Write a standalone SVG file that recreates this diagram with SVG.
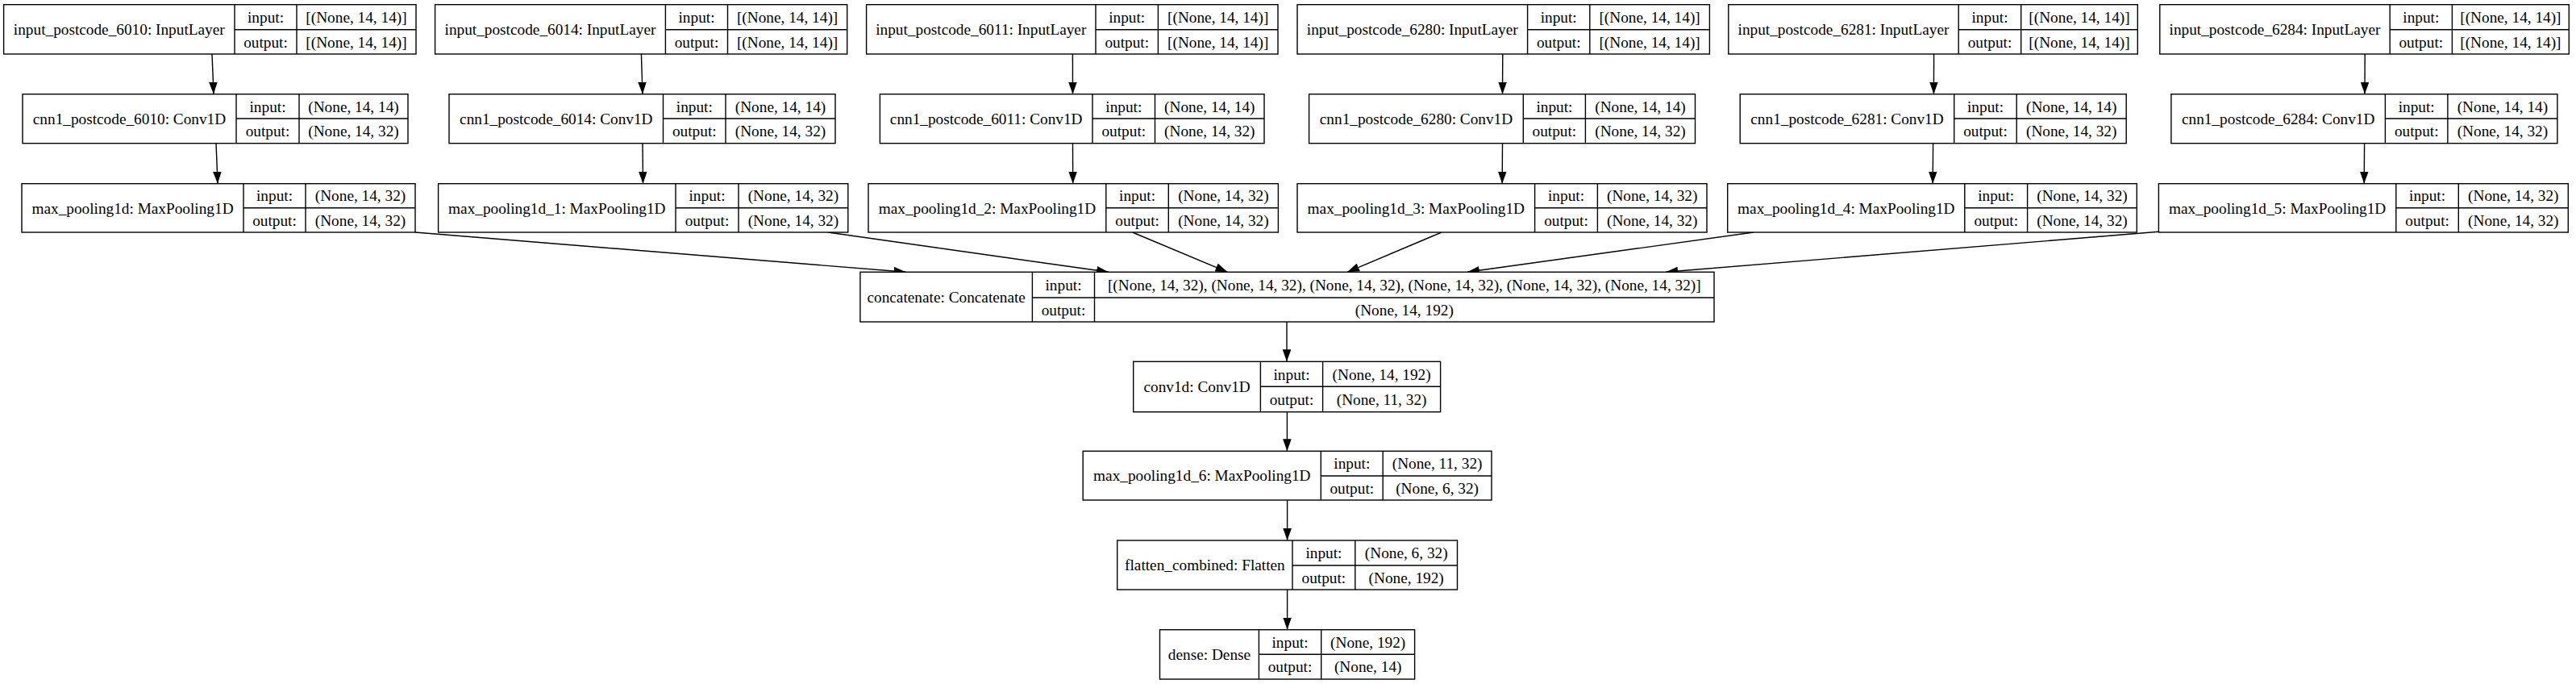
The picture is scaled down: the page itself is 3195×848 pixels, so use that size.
<svg xmlns="http://www.w3.org/2000/svg" width="3195" height="848" viewBox="0 0 3195 848">
<style>
rect.b{fill:#fff;stroke:#000;stroke-width:1.4}
.n line{stroke:#000;stroke-width:1.4}
text{font-family:"Liberation Serif","Times New Roman",serif;font-size:19.3px;fill:#000;text-anchor:middle}
#edges line{stroke:#000;stroke-width:1.4;marker-end:url(#ah)}
</style>
<defs>
<marker id="ah" markerUnits="userSpaceOnUse" markerWidth="16" markerHeight="12" refX="15" refY="5.3" orient="auto">
<path d="M0,0 L15,5.3 L0,10.6 z" fill="#000"/>
</marker>
</defs>
<rect width="3195" height="848" fill="#fff"/>
<g id="edges">
<line x1="263" y1="67" x2="265" y2="116.7"/>
<line x1="268" y1="177.7" x2="270" y2="227.7"/>
<line x1="795.4" y1="67" x2="797" y2="116.7"/>
<line x1="797" y1="177.7" x2="797.5" y2="227.7"/>
<line x1="1330.4" y1="67" x2="1330.5" y2="116.7"/>
<line x1="1330.5" y1="177.7" x2="1330.7" y2="227.7"/>
<line x1="1863.8" y1="67" x2="1863.5" y2="116.7"/>
<line x1="1863.5" y1="177.7" x2="1863.2" y2="227.7"/>
<line x1="2398.6" y1="67" x2="2398.4" y2="116.7"/>
<line x1="2397.6" y1="177.7" x2="2397.2" y2="227.7"/>
<line x1="2933.2" y1="67" x2="2933" y2="116.7"/>
<line x1="2932.6" y1="177.7" x2="2932.2" y2="227.7"/>
<line x1="515" y1="288" x2="1123.5" y2="337.3"/>
<line x1="1027" y1="288" x2="1375" y2="337.3"/>
<line x1="1404.6" y1="288" x2="1522.5" y2="337.3"/>
<line x1="1788" y1="288" x2="1671" y2="337.3"/>
<line x1="2175" y1="288" x2="1820" y2="337.3"/>
<line x1="2677.4" y1="287.3" x2="2066" y2="337.3"/>
<line x1="1596" y1="399" x2="1596" y2="448.3"/>
<line x1="1596.4" y1="510.7" x2="1596.4" y2="559.3"/>
<line x1="1596.6" y1="620" x2="1596.6" y2="670"/>
<line x1="1596.6" y1="731" x2="1596.6" y2="780.7"/>
</g>
<g id="input_postcode_6010" class="n"><rect class="b" x="4.6" y="5.7" width="511.4" height="61.3"/><line x1="291" y1="5.7" x2="291" y2="67"/><line x1="368" y1="5.7" x2="368" y2="67"/><line x1="291" y1="36.7" x2="516" y2="36.7"/><text x="147.8" y="43">input_postcode_6010: InputLayer</text><text x="329.5" y="27.9">input:</text><text x="329.5" y="58.5">output:</text><text x="442" y="27.9">[(None, 14, 14)]</text><text x="442" y="58.5">[(None, 14, 14)]</text></g>
<g id="cnn1_postcode_6010" class="n"><rect class="b" x="28" y="116.7" width="478" height="61"/><line x1="293" y1="116.7" x2="293" y2="177.7"/><line x1="371" y1="116.7" x2="371" y2="177.7"/><line x1="293" y1="147" x2="506" y2="147"/><text x="160.5" y="153.9">cnn1_postcode_6010: Conv1D</text><text x="332" y="138.5">input:</text><text x="332" y="169">output:</text><text x="438.5" y="138.5">(None, 14, 14)</text><text x="438.5" y="169">(None, 14, 32)</text></g>
<g id="max_pooling1d" class="n"><rect class="b" x="27" y="227.7" width="488" height="60.3"/><line x1="302" y1="227.7" x2="302" y2="288"/><line x1="379" y1="227.7" x2="379" y2="288"/><line x1="302" y1="257.7" x2="515" y2="257.7"/><text x="164.5" y="264.5">max_pooling1d: MaxPooling1D</text><text x="340.5" y="249.4">input:</text><text x="340.5" y="279.5">output:</text><text x="447" y="249.4">(None, 14, 32)</text><text x="447" y="279.5">(None, 14, 32)</text></g>
<g id="input_postcode_6014" class="n"><rect class="b" x="539.6" y="5.7" width="511.1" height="61.3"/><line x1="825.4" y1="5.7" x2="825.4" y2="67"/><line x1="902.5" y1="5.7" x2="902.5" y2="67"/><line x1="825.4" y1="36.7" x2="1050.7" y2="36.7"/><text x="682.5" y="43">input_postcode_6014: InputLayer</text><text x="864" y="27.9">input:</text><text x="864" y="58.5">output:</text><text x="976.6" y="27.9">[(None, 14, 14)]</text><text x="976.6" y="58.5">[(None, 14, 14)]</text></g>
<g id="cnn1_postcode_6014" class="n"><rect class="b" x="557" y="116.7" width="479" height="61"/><line x1="822.5" y1="116.7" x2="822.5" y2="177.7"/><line x1="900" y1="116.7" x2="900" y2="177.7"/><line x1="822.5" y1="147" x2="1036" y2="147"/><text x="689.8" y="153.9">cnn1_postcode_6014: Conv1D</text><text x="861.3" y="138.5">input:</text><text x="861.3" y="169">output:</text><text x="968" y="138.5">(None, 14, 14)</text><text x="968" y="169">(None, 14, 32)</text></g>
<g id="max_pooling1d_1" class="n"><rect class="b" x="543.6" y="227.7" width="508.2" height="60.3"/><line x1="838" y1="227.7" x2="838" y2="288"/><line x1="916" y1="227.7" x2="916" y2="288"/><line x1="838" y1="257.7" x2="1051.8" y2="257.7"/><text x="690.8" y="264.5">max_pooling1d_1: MaxPooling1D</text><text x="877" y="249.4">input:</text><text x="877" y="279.5">output:</text><text x="983.9" y="249.4">(None, 14, 32)</text><text x="983.9" y="279.5">(None, 14, 32)</text></g>
<g id="input_postcode_6011" class="n"><rect class="b" x="1074.6" y="5.7" width="510.4" height="61.3"/><line x1="1359" y1="5.7" x2="1359" y2="67"/><line x1="1436.4" y1="5.7" x2="1436.4" y2="67"/><line x1="1359" y1="36.7" x2="1585" y2="36.7"/><text x="1216.8" y="43">input_postcode_6011: InputLayer</text><text x="1397.7" y="27.9">input:</text><text x="1397.7" y="58.5">output:</text><text x="1510.7" y="27.9">[(None, 14, 14)]</text><text x="1510.7" y="58.5">[(None, 14, 14)]</text></g>
<g id="cnn1_postcode_6011" class="n"><rect class="b" x="1091.4" y="116.7" width="476.6" height="61"/><line x1="1355" y1="116.7" x2="1355" y2="177.7"/><line x1="1432.5" y1="116.7" x2="1432.5" y2="177.7"/><line x1="1355" y1="147" x2="1568" y2="147"/><text x="1223.2" y="153.9">cnn1_postcode_6011: Conv1D</text><text x="1393.8" y="138.5">input:</text><text x="1393.8" y="169">output:</text><text x="1500.3" y="138.5">(None, 14, 14)</text><text x="1500.3" y="169">(None, 14, 32)</text></g>
<g id="max_pooling1d_2" class="n"><rect class="b" x="1077" y="227.7" width="508.4" height="60.3"/><line x1="1371.8" y1="227.7" x2="1371.8" y2="288"/><line x1="1449.3" y1="227.7" x2="1449.3" y2="288"/><line x1="1371.8" y1="257.7" x2="1585.4" y2="257.7"/><text x="1224.4" y="264.5">max_pooling1d_2: MaxPooling1D</text><text x="1410.6" y="249.4">input:</text><text x="1410.6" y="279.5">output:</text><text x="1517.4" y="249.4">(None, 14, 32)</text><text x="1517.4" y="279.5">(None, 14, 32)</text></g>
<g id="input_postcode_6280" class="n"><rect class="b" x="1609" y="5.7" width="511.4" height="61.3"/><line x1="1894.6" y1="5.7" x2="1894.6" y2="67"/><line x1="1971.8" y1="5.7" x2="1971.8" y2="67"/><line x1="1894.6" y1="36.7" x2="2120.4" y2="36.7"/><text x="1751.8" y="43">input_postcode_6280: InputLayer</text><text x="1933.2" y="27.9">input:</text><text x="1933.2" y="58.5">output:</text><text x="2046.1" y="27.9">[(None, 14, 14)]</text><text x="2046.1" y="58.5">[(None, 14, 14)]</text></g>
<g id="cnn1_postcode_6280" class="n"><rect class="b" x="1623.6" y="116.7" width="478.9" height="61"/><line x1="1889.3" y1="116.7" x2="1889.3" y2="177.7"/><line x1="1966.4" y1="116.7" x2="1966.4" y2="177.7"/><line x1="1889.3" y1="147" x2="2102.5" y2="147"/><text x="1756.5" y="153.9">cnn1_postcode_6280: Conv1D</text><text x="1927.9" y="138.5">input:</text><text x="1927.9" y="169">output:</text><text x="2034.5" y="138.5">(None, 14, 14)</text><text x="2034.5" y="169">(None, 14, 32)</text></g>
<g id="max_pooling1d_3" class="n"><rect class="b" x="1609" y="227.7" width="508" height="60.3"/><line x1="1903.6" y1="227.7" x2="1903.6" y2="288"/><line x1="1981.4" y1="227.7" x2="1981.4" y2="288"/><line x1="1903.6" y1="257.7" x2="2117" y2="257.7"/><text x="1756.3" y="264.5">max_pooling1d_3: MaxPooling1D</text><text x="1942.5" y="249.4">input:</text><text x="1942.5" y="279.5">output:</text><text x="2049.2" y="249.4">(None, 14, 32)</text><text x="2049.2" y="279.5">(None, 14, 32)</text></g>
<g id="input_postcode_6281" class="n"><rect class="b" x="2143.8" y="5.7" width="507.5" height="61.3"/><line x1="2429.2" y1="5.7" x2="2429.2" y2="67"/><line x1="2506.7" y1="5.7" x2="2506.7" y2="67"/><line x1="2429.2" y1="36.7" x2="2651.3" y2="36.7"/><text x="2286.5" y="43">input_postcode_6281: InputLayer</text><text x="2468" y="27.9">input:</text><text x="2468" y="58.5">output:</text><text x="2579" y="27.9">[(None, 14, 14)]</text><text x="2579" y="58.5">[(None, 14, 14)]</text></g>
<g id="cnn1_postcode_6281" class="n"><rect class="b" x="2158.2" y="116.7" width="479" height="61"/><line x1="2423.7" y1="116.7" x2="2423.7" y2="177.7"/><line x1="2501.2" y1="116.7" x2="2501.2" y2="177.7"/><line x1="2423.7" y1="147" x2="2637.2" y2="147"/><text x="2291" y="153.9">cnn1_postcode_6281: Conv1D</text><text x="2462.5" y="138.5">input:</text><text x="2462.5" y="169">output:</text><text x="2569.2" y="138.5">(None, 14, 14)</text><text x="2569.2" y="169">(None, 14, 32)</text></g>
<g id="max_pooling1d_4" class="n"><rect class="b" x="2142.7" y="227.7" width="507.6" height="60.3"/><line x1="2436.8" y1="227.7" x2="2436.8" y2="288"/><line x1="2514.6" y1="227.7" x2="2514.6" y2="288"/><line x1="2436.8" y1="257.7" x2="2650.3" y2="257.7"/><text x="2289.8" y="264.5">max_pooling1d_4: MaxPooling1D</text><text x="2475.7" y="249.4">input:</text><text x="2475.7" y="279.5">output:</text><text x="2582.5" y="249.4">(None, 14, 32)</text><text x="2582.5" y="279.5">(None, 14, 32)</text></g>
<g id="input_postcode_6284" class="n"><rect class="b" x="2678.8" y="5.7" width="507.5" height="61.3"/><line x1="2964.2" y1="5.7" x2="2964.2" y2="67"/><line x1="3041.4" y1="5.7" x2="3041.4" y2="67"/><line x1="2964.2" y1="36.7" x2="3186.3" y2="36.7"/><text x="2821.5" y="43">input_postcode_6284: InputLayer</text><text x="3002.8" y="27.9">input:</text><text x="3002.8" y="58.5">output:</text><text x="3113.9" y="27.9">[(None, 14, 14)]</text><text x="3113.9" y="58.5">[(None, 14, 14)]</text></g>
<g id="cnn1_postcode_6284" class="n"><rect class="b" x="2692.9" y="116.7" width="479" height="61"/><line x1="2958.4" y1="116.7" x2="2958.4" y2="177.7"/><line x1="3035.9" y1="116.7" x2="3035.9" y2="177.7"/><line x1="2958.4" y1="147" x2="3171.9" y2="147"/><text x="2825.7" y="153.9">cnn1_postcode_6284: Conv1D</text><text x="2997.2" y="138.5">input:</text><text x="2997.2" y="169">output:</text><text x="3103.9" y="138.5">(None, 14, 14)</text><text x="3103.9" y="169">(None, 14, 32)</text></g>
<g id="max_pooling1d_5" class="n"><rect class="b" x="2677.4" y="227.7" width="507.9" height="60.3"/><line x1="2971.8" y1="227.7" x2="2971.8" y2="288"/><line x1="3049.3" y1="227.7" x2="3049.3" y2="288"/><line x1="2971.8" y1="257.7" x2="3185.3" y2="257.7"/><text x="2824.6" y="264.5">max_pooling1d_5: MaxPooling1D</text><text x="3010.6" y="249.4">input:</text><text x="3010.6" y="279.5">output:</text><text x="3117.3" y="249.4">(None, 14, 32)</text><text x="3117.3" y="279.5">(None, 14, 32)</text></g>
<g id="concatenate" class="n"><rect class="b" x="1066.9" y="337.3" width="1059.1" height="61.7"/><line x1="1280.4" y1="337.3" x2="1280.4" y2="399"/><line x1="1357.5" y1="337.3" x2="1357.5" y2="399"/><line x1="1280.4" y1="369" x2="2126" y2="369"/><text x="1173.7" y="374.8">concatenate: Concatenate</text><text x="1319" y="359.8">input:</text><text x="1319" y="390.7">output:</text><text x="1741.8" y="359.8">[(None, 14, 32), (None, 14, 32), (None, 14, 32), (None, 14, 32), (None, 14, 32), (None, 14, 32)]</text><text x="1741.8" y="390.7">(None, 14, 192)</text></g>
<g id="conv1d" class="n"><rect class="b" x="1405.7" y="448.3" width="380.9" height="62.4"/><line x1="1563.4" y1="448.3" x2="1563.4" y2="510.7"/><line x1="1640.6" y1="448.3" x2="1640.6" y2="510.7"/><line x1="1563.4" y1="479.3" x2="1786.6" y2="479.3"/><text x="1484.6" y="486.2">conv1d: Conv1D</text><text x="1602" y="470.5">input:</text><text x="1602" y="501.7">output:</text><text x="1713.6" y="470.5">(None, 14, 192)</text><text x="1713.6" y="501.7">(None, 11, 32)</text></g>
<g id="max_pooling1d_6" class="n"><rect class="b" x="1343.2" y="559.3" width="506.8" height="60.7"/><line x1="1638.3" y1="559.3" x2="1638.3" y2="620"/><line x1="1715.2" y1="559.3" x2="1715.2" y2="620"/><line x1="1638.3" y1="590" x2="1850" y2="590"/><text x="1490.8" y="596.3">max_pooling1d_6: MaxPooling1D</text><text x="1676.8" y="581.3">input:</text><text x="1676.8" y="611.7">output:</text><text x="1782.6" y="581.3">(None, 11, 32)</text><text x="1782.6" y="611.7">(None, 6, 32)</text></g>
<g id="flatten_combined" class="n"><rect class="b" x="1385.7" y="670" width="421.8" height="61"/><line x1="1603" y1="670" x2="1603" y2="731"/><line x1="1680.8" y1="670" x2="1680.8" y2="731"/><line x1="1603" y1="701" x2="1807.5" y2="701"/><text x="1494.4" y="707.2">flatten_combined: Flatten</text><text x="1641.9" y="692.2">input:</text><text x="1641.9" y="722.7">output:</text><text x="1744.2" y="692.2">(None, 6, 32)</text><text x="1744.2" y="722.7">(None, 192)</text></g>
<g id="dense" class="n"><rect class="b" x="1438.5" y="780.7" width="316.1" height="61.3"/><line x1="1561.4" y1="780.7" x2="1561.4" y2="842"/><line x1="1638.7" y1="780.7" x2="1638.7" y2="842"/><line x1="1561.4" y1="811.3" x2="1754.6" y2="811.3"/><text x="1500" y="818.1">dense: Dense</text><text x="1600" y="802.7">input:</text><text x="1600" y="833.4">output:</text><text x="1696.7" y="802.7">(None, 192)</text><text x="1696.7" y="833.4">(None, 14)</text></g>
</svg>
